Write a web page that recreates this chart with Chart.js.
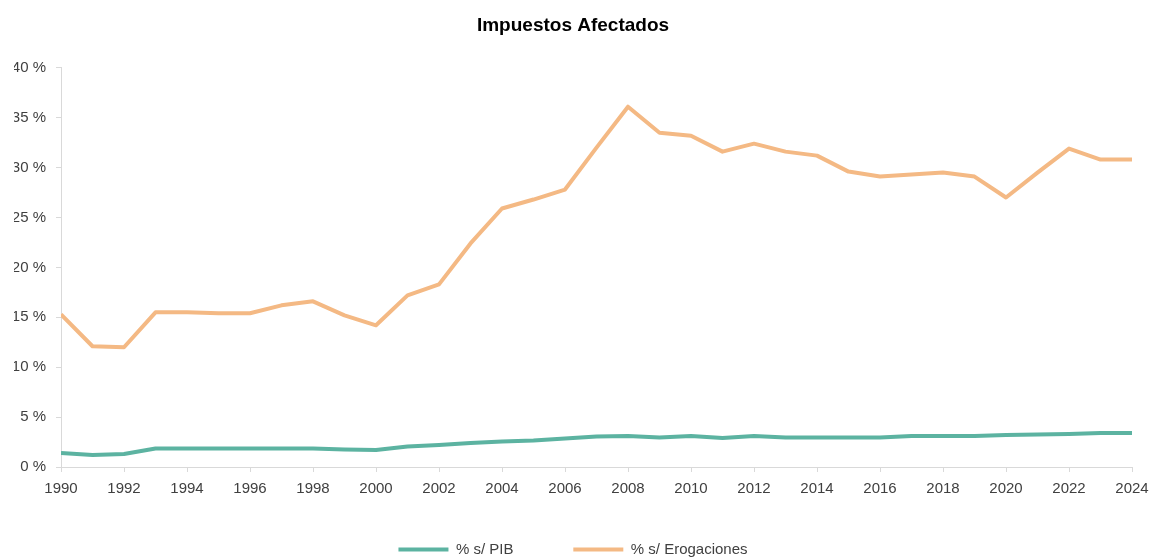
<!DOCTYPE html>
<html lang="es">

<head>
  <meta charset="utf-8" />
  <script src="https://cdn.jsdelivr.net/npm/chart.js@4"></script>
  <style>
    html, body { margin: 0; padding: 0; background: #fff; }
    .chart-area { width: 1152px; height: 557px; }
  </style>
</head>

<body>
  <!-- 차트 -->
  <div class="chart-area">
    <canvas id="impuestos-chart" width="1152" height="557"></canvas>
  </div>
  <!-- 차트 끝-->
</body>

<script>
  const years = [1990, 1991, 1992, 1993, 1994, 1995, 1996, 1997, 1998, 1999, 2000, 2001, 2002, 2003, 2004, 2005, 2006, 2007, 2008, 2009, 2010, 2011, 2012, 2013, 2014, 2015, 2016, 2017, 2018, 2019, 2020, 2021, 2022, 2023, 2024];
  const pctPib = [1.4, 1.2, 1.3, 1.85, 1.85, 1.85, 1.85, 1.85, 1.85, 1.75, 1.7, 2.05, 2.2, 2.4, 2.55, 2.65, 2.85, 3.05, 3.1, 2.95, 3.1, 2.9, 3.1, 2.95, 2.95, 2.95, 2.95, 3.1, 3.1, 3.1, 3.2, 3.25, 3.3, 3.4, 3.4];
  const pctErogaciones = [15.3, 12.1, 12.0, 15.5, 15.5, 15.4, 15.4, 16.2, 16.6, 15.2, 14.2, 17.2, 18.3, 22.4, 25.9, 26.8, 27.8, 32.0, 36.1, 33.5, 33.2, 31.6, 32.4, 31.6, 31.2, 29.6, 29.1, 29.3, 29.5, 29.1, 27.0, 29.5, 31.9, 30.8, 30.8];
  const seriesLabels = ['% s/ PIB', '% s/ Erogaciones'];

  const textColor = '#404040';
  const axisColor = '#d9d9d9';
  const baseFont = { family: 'Liberation Sans, Arial, sans-serif', size: 15 };

  const chartData1 = {
    labels: years,
    datasets: [{
        label: seriesLabels[0],
        borderColor: '#5cb3a1',
        backgroundColor: '#5cb3a1',
        data: pctPib,
        borderWidth: 4,
      },
      {
        label: seriesLabels[1],
        borderColor: '#f4b984',
        backgroundColor: '#f4b984',
        data: pctErogaciones,
        borderWidth: 4,
      },
    ]
  };

  const lineConfig = {
    type: 'line',
    data: chartData1,
    options: {
      responsive: false,
      animation: false,
      layout: {
        padding: { left: 14, right: 20, top: 0, bottom: -10 }
      },
      elements: {
        point: { radius: 0 },
        line: { tension: 0, borderCapStyle: 'butt', borderJoinStyle: 'round' }
      },
      plugins: {
        title: {
          display: true,
          text: 'Impuestos Afectados',
          color: '#000',
          font: { family: baseFont.family, size: 19, weight: 'bold' },
          padding: { top: 14, bottom: 31 },
        },
        legend: {
          position: 'bottom',
          labels: {
            usePointStyle: true,
            pointStyle: 'line',
            pointStyleWidth: 50,
            padding: 39,
            color: textColor,
            font: baseFont,
            // separa un poco más los dos elementos
            generateLabels: function (chart) {
              const items = Chart.defaults.plugins.legend.labels.generateLabels(chart);
              items[0].text += '     ';
              return items;
            }
          }
        },
        tooltip: { enabled: false }
      },
      scales: {
        x: {
          type: 'linear',
          min: 1990,
          max: 2024,
          afterFit: function (scale) { scale.height = 36; scale.paddingRight = 0; },
          grid: { drawOnChartArea: false, color: axisColor, tickLength: 5 },
          border: { color: axisColor },
          ticks: {
            stepSize: 2,
            padding: 8,
            color: textColor,
            font: baseFont,
            maxRotation: 0,
            autoSkip: false,
            callback: function (v) { return String(v); }
          }
        },
        y: {
          min: 0,
          max: 40,
          afterFit: function (scale) { scale.width = 47; },
          grid: { drawOnChartArea: false, color: axisColor, tickLength: 5 },
          border: { color: axisColor },
          ticks: {
            stepSize: 5,
            padding: 10,
            color: textColor,
            font: baseFont,
            callback: function (v) { return v + ' %'; }
          }
        }
      }
    },
  };

  window.onload = function () {
    const chartview1 = document.getElementById('impuestos-chart').getContext('2d');
    window.chart1 = new Chart(chartview1, lineConfig);
  };
</script>

</html>
